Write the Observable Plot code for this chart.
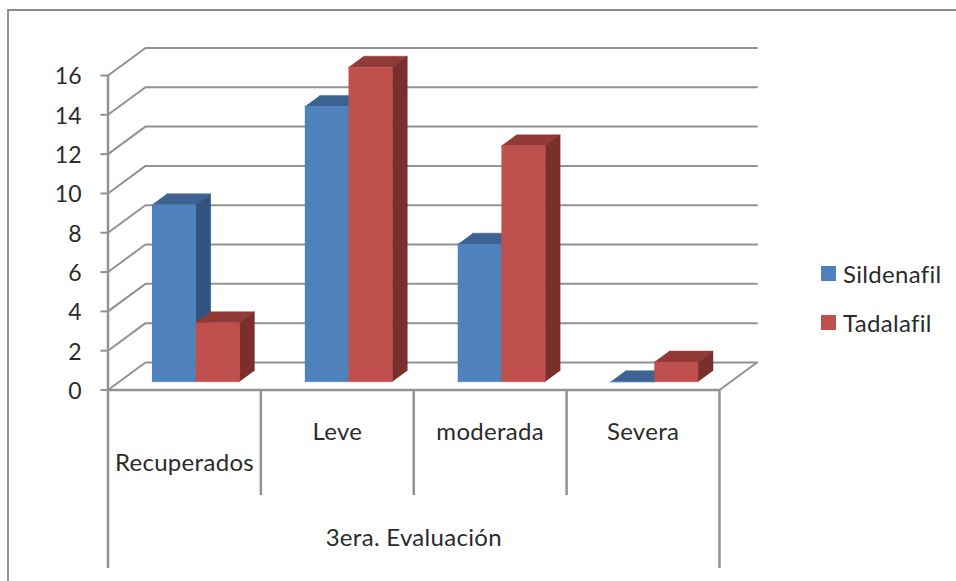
<!DOCTYPE html>
<html lang="es">
<head>
<meta charset="utf-8">
<title>3era. Evaluación</title>
<script src="https://cdn.jsdelivr.net/npm/d3@7"></script>
<script src="https://cdn.jsdelivr.net/npm/@observablehq/plot@0.6"></script>
<style>
  html, body { margin: 0; padding: 0; background: #fff; }
  #chart { position: relative; width: 956px; height: 581px; overflow: hidden; font-family: Lato, sans-serif; font-variant-ligatures: none; }
  #chart svg { display: block; position: absolute; left: 0; top: 0; background: transparent; }
  /* Open-ended chart border: top and left edges only */
  #border { position: absolute; left: 6.5px; top: 9px; right: -4px; bottom: -4px;
            border-top: 2.5px solid #8c8c8c; border-left: 2.5px solid #959595; }
  #legend { position: absolute; left: 821px; top: 249px; font-size: 24px; letter-spacing: 0.3px; color: #2b2b2b; }
  #legend div { display: flex; align-items: center; height: 49px; }
  #legend i { display: block; width: 15px; height: 15px; margin-right: 7px; }
</style>
</head>
<body>
<div id="chart"><div id="border"></div></div>
<script>
const categories = ["Recuperados", "Leve", "moderada", "Severa"];
const sildenafil = [9, 14, 7, 0];
const tadalafil = [3, 16, 12, 1];
const groupLabel = "3era. Evaluación";
const yTicks = [0, 2, 4, 6, 8, 10, 12, 14, 16];

const series = [
  {name: "Sildenafil", values: sildenafil, front: "#4f81bd", top: "#3c6391", side: "#30547f"},
  {name: "Tadalafil", values: tadalafil, front: "#c0504d", top: "#923a37", side: "#7a2f2d"}
];

// Oblique projection: depth t runs from the front edge (0) to the back wall (1)
const depthX = 0.245, depthY = 1.4;
const project = (cat, value, t) => ({x: cat + t * depthX, y: value + t * depthY});

// Bar footprint inside a category, as fractions of its width and of the depth
const gap = 0.214, barWidth = (1 - 2 * gap) / 2;
const tFront = 0.3, tBack = 0.7;

const faces = [];
function addFace(id, fill, corners) {
  for (const [c, v, t] of corners) faces.push({id, fill, ...project(c, v, t)});
}
categories.forEach((_, i) => {
  series.forEach((s, j) => {
    const x0 = i + gap + j * barWidth, x1 = x0 + barWidth, v = s.values[i], id = `${i}-${j}`;
    addFace(`${id}-top`, s.top, [[x0, v, tFront], [x1, v, tFront], [x1, v, tBack], [x0, v, tBack]]);
    addFace(`${id}-side`, s.side, [[x1, 0, tFront], [x1, v, tFront], [x1, v, tBack], [x1, 0, tBack]]);
    addFace(`${id}-front`, s.front, [[x0, 0, tFront], [x1, 0, tFront], [x1, v, tFront], [x0, v, tFront]]);
  });
});

// Gridlines step back along the side wall, then run across the back wall
const n = categories.length;
const grid = yTicks.flatMap(v => [
  {v, ...project(0, v, 0)}, {v, ...project(0, v, 1)}, {v, ...project(n, v, 1)}
]);
const floorEdge = [project(n, 0, 0), project(n, 0, 1)];

const axisColor = "#929292", textColor = "#2b2b2b", fontSize = 24;
const innerBottom = -5.37, outerBottom = -9.08, tickLength = 0.046;

const plot = Plot.plot({
  width: 956, height: 581,
  marginLeft: 107.5, marginRight: 237, marginTop: 75, marginBottom: 191.5,
  style: {fontFamily: "Lato, sans-serif", background: "transparent", letterSpacing: "0.3px"},
  x: {domain: [0, n], range: [107.5, 719], axis: null},
  y: {domain: [0, 16], range: [389.5, 75], axis: null},
  color: {type: "identity"},
  marks: [
    Plot.line(grid, {x: "x", y: "y", z: "v", stroke: axisColor, strokeWidth: 2}),
    Plot.line(floorEdge, {x: "x", y: "y", stroke: axisColor, strokeWidth: 2}),
    Plot.ruleY([0], {x1: 0, x2: n, stroke: axisColor, strokeWidth: 2.5}),
    Plot.ruleY(yTicks, {x1: -tickLength, x2: 0, stroke: axisColor, strokeWidth: 2}),
    Plot.ruleX([0, n], {y1: outerBottom, y2: d => d === 0 ? 16 : 0, stroke: axisColor, strokeWidth: 2.5}),
    Plot.ruleX(d3.range(1, n), {y1: innerBottom, y2: 0, stroke: axisColor, strokeWidth: 2.5}),
    Plot.line(faces, {x: "x", y: "y", z: "id", fill: "fill", stroke: "fill", strokeWidth: 0.5}),
    Plot.axisY({
      ticks: yTicks, tickSize: 0, tickPadding: 26, dy: 1.5, tickFormat: d => `${d}`,
      fontSize: 23, fill: textColor, label: null
    }),
    // "Recuperados" fills its cell, so it sits lower than the other labels
    Plot.text(categories.slice(0, 1), {
      x: () => 0.5, y: 0, dy: 73.5, text: d => d, fontSize, fill: textColor, lineAnchor: "middle"
    }),
    Plot.text(categories.slice(1), {
      x: (_, i) => i + 1.5, y: 0, dy: 42.5, text: d => d, fontSize, fill: textColor, lineAnchor: "middle"
    }),
    Plot.text([groupLabel], {
      x: n / 2, y: 0, dy: 148.5, text: d => d, fontSize, fill: textColor, lineAnchor: "middle"
    })
  ]
});
const chart = document.getElementById("chart");
chart.prepend(plot);

const legend = document.createElement("div");
legend.id = "legend";
for (const s of series) {
  const row = document.createElement("div");
  const swatch = document.createElement("i");
  swatch.style.background = s.front;
  row.append(swatch, s.name);
  legend.append(row);
}
chart.append(legend);
</script>
</body>
</html>
